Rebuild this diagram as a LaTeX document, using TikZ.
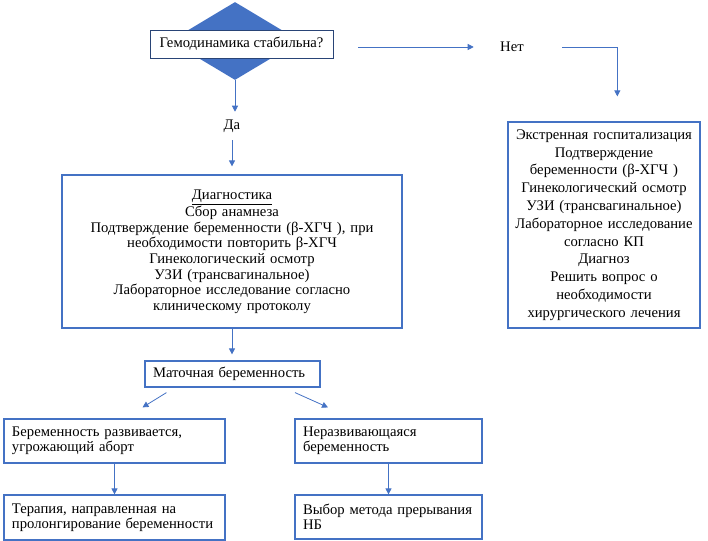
\documentclass[tikz,border=0pt]{standalone}
\usepackage{fontspec}
\setmainfont{Liberation Serif}
\usepackage{xcolor}
\usetikzlibrary{arrows.meta,positioning,calc,shapes.geometric}
\definecolor{ofblue}{HTML}{4472C4}
\tikzset{
	box/.style={draw=ofblue, line width=0.9pt, fill=white, align=center, inner sep=3pt,
		font=\fontsize{11}{11.7}\selectfont},
	leftbox/.style={draw=ofblue, line width=0.9pt, fill=white, align=left, inner xsep=6pt,
		inner ysep=2pt, font=\fontsize{11}{11.3}\selectfont},
	arrow/.style={-{Triangle[length=4.5pt, width=4.5pt]}, draw=ofblue, line width=0.6pt},
	plainlabel/.style={font=\fontsize{11}{12}\selectfont, inner sep=0pt}
}

\begin{document}
\begin{tikzpicture}[x=0.75pt, y=-0.75pt]
	\useasboundingbox (0,0) rectangle (708,541);
	
	%% -- Decision
	\node[diamond, fill=ofblue, draw=none, inner sep=0pt,
	minimum width=97.5pt, minimum height=58.5pt] (dec) at (235,41) {};
	
	\node[draw=ofblue!60!black, line width=0.5pt, fill=white, inner sep=0pt,
	minimum width=137.25pt, minimum height=21pt, plainlabel] (quest) at (241.5,44)
	{Гемодинамика стабильна?};
	
	%% -- Branch labels
	\node[plainlabel, minimum width=57pt] (no) at (512,47) {Нет};
	\node[plainlabel, minimum height=21pt] (yes) at (232,126) {Да};
	\coordinate (nostart) at (358,47);
	
	%% -- Emergency box
	\node[box, text width=138pt, minimum height=154.5pt,
	font=\fontsize{11}{13.35}\selectfont] (emerg) at (604,225)
	{Экстренная госпитализация\\
		Подтверждение\\
		беременности (β-ХГЧ )\\
		Гинекологический осмотр\\
		УЗИ (трансвагинальное)\\
		Лабораторное исследование\\
		согласно КП\\
		Диагноз\\
		Решить вопрос о\\
		необходимости\\
		хирургического лечения};
	
	%% -- Diagnostics box
	\node[box, text width=249pt, minimum height=114.75pt] (diag) at (232,251.5)
	{\underline{Диагностика}\\
		Сбор анамнеза\\
		Подтверждение беременности (β-ХГЧ ), при\\
		необходимости повторить β-ХГЧ\\
		Гинекологический осмотр\\
		УЗИ (трансвагинальное)\\
		Лабораторное исследование согласно\\
		клиническому протоколу};
	
	%% -- Uterine pregnancy and outcomes
	\node[leftbox, text width=119.25pt, minimum height=19.5pt] (uter) at (232.5,374)
	{Маточная беременность};
	
	\node[leftbox, text width=153.75pt, minimum height=33pt] (devel) at (114.5,441)
	{Беременность развивается,\\угрожающий аборт};
	
	\node[leftbox, text width=128.25pt, minimum height=33pt] (nondev) at (388.5,441)
	{Неразвивающаяся\\беременность};
	
	\node[leftbox, text width=153.75pt, minimum height=33.75pt] (ther) at (114.5,517.5)
	{Терапия, направленная на\\пролонгирование беременности};
	
	\node[leftbox, text width=128.25pt, minimum height=33pt] (term) at (388.5,517)
	{Выбор метода прерывания\\НБ};
	
	%% -- Connectors
	\draw[arrow] (nostart) -- (no.west);
	\draw[arrow, shorten <=9pt, shorten >=18.75pt] (no.east) -| ([xshift=10]emerg.north);
	\draw[arrow] (dec.south) -- (dec.south |- yes.north);
	\draw[arrow, shorten >=6pt] (yes.south) -- (yes.south |- diag.north);
	\draw[arrow, shorten >=4.5pt] (diag.south) -- (diag.south |- uter.north);
	\draw[arrow] ([shift={(-66,5)}]uter.south) -- ([shift={(28,-11)}]devel.north);
	\draw[arrow] ([shift={(62.5,5)}]uter.south) -- ([shift={(-60.5,-11)}]nondev.north);
	\draw[arrow] (devel.south) -- (ther.north);
	\draw[arrow] (nondev.south) -- (term.north);
	
\end{tikzpicture}
\end{document}
